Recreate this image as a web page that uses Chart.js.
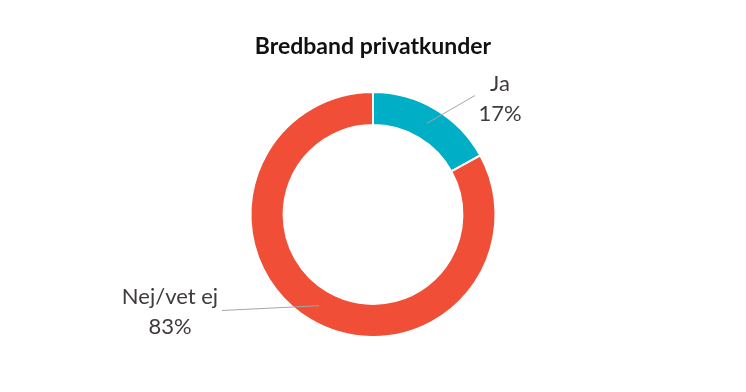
<!DOCTYPE html>
<html>
<head>
<meta charset="utf-8">
<script src="https://cdn.jsdelivr.net/npm/chart.js@4/dist/chart.umd.min.js"></script>
<style>
  html, body { margin: 0; padding: 0; background: #ffffff; }
  #wrap { width: 746px; height: 392px; position: relative; }
</style>
</head>
<body>
<div id="wrap"><canvas id="c"></canvas></div>
<script>
const categories = ["Ja", "Nej/vet ej"];
const values = [17, 83];
const valueLabels = ["17%", "83%"];
const colors = ["#00aec5", "#f04e37"];

// label placement (offsets from chart centre, px) and leader line ends
const labelPlacement = [
  { textDx: 127, textDy: -116, lineDx: 102, lineDy: -119, align: "center" },
  { textDx: -203, textDy: 97, lineDx: -151, lineDy: 96, align: "center" }
];

const leaderLabels = {
  id: "leaderLabels",
  afterDatasetsDraw(chart) {
    const ctx = chart.ctx;
    const meta = chart.getDatasetMeta(0);
    ctx.save();
    meta.data.forEach((arc, i) => {
      const p = arc.getProps(["x", "y", "startAngle", "endAngle", "innerRadius", "outerRadius"], true);
      const mid = (p.startAngle + p.endAngle) / 2;
      const r = (p.innerRadius + p.outerRadius) / 2;
      const sx = p.x + Math.cos(mid) * r;
      const sy = p.y + Math.sin(mid) * r;
      const pl = labelPlacement[i];
      ctx.strokeStyle = "#a6a6a6";
      ctx.lineWidth = 1;
      ctx.beginPath();
      ctx.moveTo(sx, sy);
      ctx.lineTo(p.x + pl.lineDx, p.y + pl.lineDy);
      ctx.stroke();
      ctx.fillStyle = "#403b3b";
      ctx.font = "22px Lato, 'Open Sans', sans-serif";
      ctx.textAlign = pl.align;
      ctx.textBaseline = "middle";
      const tx = p.x + pl.textDx, ty = p.y + pl.textDy;
      ctx.fillText(categories[i], tx, ty - 15);
      ctx.fillText(valueLabels[i], tx, ty + 15);
    });
    ctx.restore();
  }
};

new Chart(document.getElementById("c"), {
  type: "doughnut",
  data: {
    labels: categories,
    datasets: [{
      data: values,
      backgroundColor: colors,
      borderColor: "#ffffff",
      borderWidth: 2
    }]
  },
  options: {
    responsive: true,
    maintainAspectRatio: false,
    animation: false,
    cutout: "73%",
    layout: { padding: { top: 0, bottom: 54, left: 0, right: 0 } },
    plugins: {
      legend: { display: false },
      tooltip: { enabled: false },
      title: {
        display: true,
        text: "Bredband privatkunder",
        color: "#111111",
        font: { family: "Lato, 'Open Sans', sans-serif", size: 23, weight: "bold", lineHeight: 1.2 },
        padding: { top: 33, bottom: 30.4 }
      }
    }
  },
  plugins: [leaderLabels]
});
</script>
</body>
</html>
